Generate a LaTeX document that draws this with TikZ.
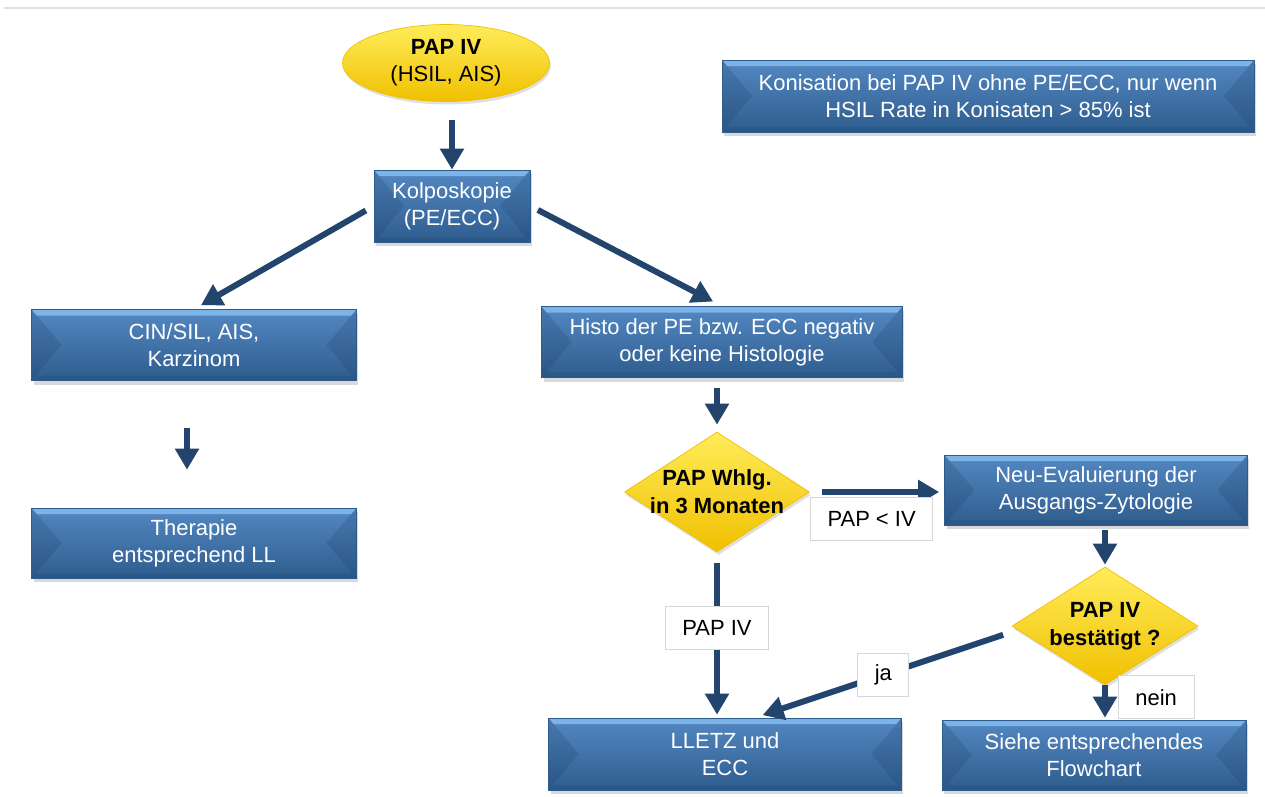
\documentclass[tikz,border=0pt]{standalone}
\usepackage{fontspec}
\setmainfont{Liberation Sans}
\usepackage{tikz}
\usetikzlibrary{arrows.meta,positioning,shapes.geometric,shadows}

\definecolor{boxtop}{RGB}{84,136,194}
\definecolor{boxbot}{RGB}{46,92,142}
\definecolor{boxlight}{RGB}{125,180,232}
\definecolor{boxside}{RGB}{30,64,104}
\definecolor{arrowblue}{RGB}{35,68,108}
\definecolor{yelltop}{RGB}{255,236,90}
\definecolor{yellbot}{RGB}{240,192,0}
\definecolor{lblframe}{RGB}{215,215,215}

\begin{document}
\begin{tikzpicture}[x=0.02cm,y=-0.02cm,
  every node/.style={font=\fontsize{12.5}{15.3}\selectfont},
  bevel/.style={path picture={
    \fill[boxlight] (path picture bounding box.north west) -- (path picture bounding box.north east)
      -- ([shift={(-0.1cm,-0.12cm)}]path picture bounding box.north east) -- ([shift={(0.1cm,-0.12cm)}]path picture bounding box.north west) -- cycle;
    \fill[boxside,opacity=.2] (path picture bounding box.south west) -- (path picture bounding box.south east)
      -- ([shift={(-0.1cm,0.1cm)}]path picture bounding box.south east) -- ([shift={(0.1cm,0.1cm)}]path picture bounding box.south west) -- cycle;
    \fill[boxside,opacity=.22] (path picture bounding box.north west) -- ([xshift=0.6cm]path picture bounding box.west) -- (path picture bounding box.south west) -- cycle;
    \fill[boxside,opacity=.22] (path picture bounding box.north east) -- ([xshift=-0.6cm]path picture bounding box.east) -- (path picture bounding box.south east) -- cycle;}},
  box/.style={rectangle,draw=boxbot,top color=boxtop,bottom color=boxbot,text=white,align=center,inner sep=2pt,
    drop shadow={opacity=0.3,shadow xshift=0.04cm,shadow yshift=-0.08cm},bevel},
  start/.style={ellipse,draw=yellbot,top color=yelltop,bottom color=yellbot,align=center,inner sep=0pt,
    minimum width=4.14cm,minimum height=1.54cm,drop shadow={opacity=0.25,shadow xshift=0.03cm,shadow yshift=-0.06cm}},
  decision/.style={diamond,draw=yellbot,top color=yelltop,bottom color=yellbot,inner sep=0pt,
    minimum width=3.7cm,minimum height=2.4cm,drop shadow={opacity=0.25,shadow xshift=0.03cm,shadow yshift=-0.06cm}},
  dtext/.style={font=\fontsize{12.5}{15.8}\selectfont\bfseries,align=center},
  lbl/.style={rectangle,draw=lblframe,line width=0.5pt,fill=white,text=black,inner xsep=0.34cm,minimum height=0.86cm},
  flow/.style={arrowblue,line width=0.12cm,-{Triangle[length=0.42cm,width=0.46cm]}}]
\useasboundingbox (0,0) rectangle (1265,796);
\draw[black!12,line width=0.04cm] (4,8) -- (1265,8);

\node[start] (pap) at (446,63) {\textbf{PAP IV}\\(HSIL, AIS)};
\node[box,minimum width=3.12cm,minimum height=1.44cm] (kolpo) at (452,206) {Kolposkopie\\(PE/ECC)};
\node[box,minimum width=10.64cm,minimum height=1.44cm] (koni) at (988,96) {Konisation bei PAP IV ohne PE/ECC, nur wenn\\HSIL Rate in Konisaten > 85\% ist};
\node[box,minimum width=6.5cm,minimum height=1.42cm] (cin) at (194,345) {CIN/SIL, AIS,\\Karzinom};
\node[box,minimum width=6.5cm,minimum height=1.4cm] (ther) at (194,543) {Therapie\\entsprechend LL};
\node[box,minimum width=7.22cm,minimum height=1.42cm] (histo) at (722,342) {Histo der PE bzw. ECC negativ\\oder keine Histologie};
\node[decision,label={[dtext]center:PAP Whlg.\\in 3 Monaten}] (whlg) at (717,492) {};
\node[box,minimum width=6.06cm,minimum height=1.4cm] (neu) at (1096,490) {Neu-Evaluierung der\\Ausgangs-Zytologie};
\node[decision,minimum width=3.72cm,minimum height=2.36cm,label={[dtext]center:PAP IV\\bestätigt ?}] (best) at (1105,626) {};
\node[box,minimum width=7.06cm,minimum height=1.44cm] (lletz) at (725,754) {LLETZ und\\ECC};
\node[box,minimum width=6.08cm,minimum height=1.4cm] (siehe) at (1094,755) {Siehe entsprechendes\\Flowchart};

\draw[flow,shorten <=0.36cm] (kolpo.north |- pap.south) -- (kolpo.north);
\draw[flow,shorten <=0.18cm,shorten >=0.16cm] (kolpo.west) -- (cin.north);
\draw[flow,shorten <=0.17cm,shorten >=0.2cm] (kolpo.east) -- (histo.north);
\draw[flow,shorten <=0.94cm,shorten >=0.76cm] ([xshift=-0.14cm]cin.south) -- ([xshift=-0.14cm]ther.north);
\draw[flow,shorten <=0.2cm,shorten >=0.14cm] (whlg.north |- histo.south) -- (whlg.north);
\draw[flow,shorten <=0.24cm,shorten >=0.1cm] (whlg.east) -- (neu.west |- whlg.east)
  node[lbl,pos=0.46,below=0.1cm] {PAP < IV};
\draw[flow,shorten <=0.1cm,shorten >=0.04cm] (best.north |- neu.south) -- (best.north);
\draw[flow,shorten <=0.22cm,shorten >=0.06cm] (whlg.south) -- (whlg.south |- lletz.north)
  node[lbl,pos=0.46] {PAP IV};
\draw[flow,shorten <=0.18cm,shorten >=0.16cm] ([yshift=-0.12cm]best.west) -- ([xshift=0.6cm]lletz.north)
  node[lbl,pos=0.5] {ja};
\draw[flow,shorten >=0.04cm] (best.south) -- (best.south |- siehe.north)
  node[lbl,pos=0.35,right=0.26cm] {nein};
\end{tikzpicture}
\end{document}
